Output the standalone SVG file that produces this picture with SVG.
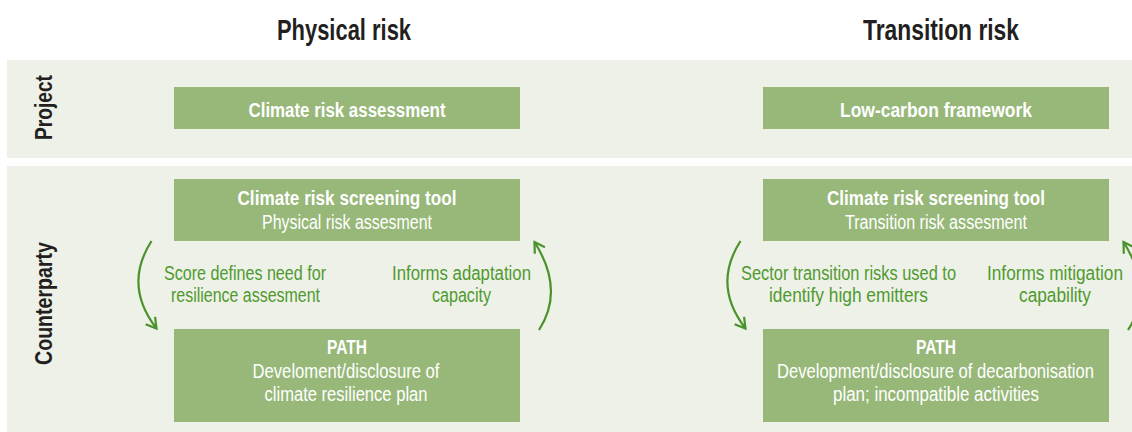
<svg xmlns="http://www.w3.org/2000/svg" width="1132" height="432" viewBox="0 0 1132 432">
  <defs>
    <style>
      .panel { fill: #eef1e7; }
      .box { fill: #97b879; }
      .title { font-family: "Liberation Sans", Arial, sans-serif; font-weight: bold; font-size: 29px; fill: #231f20; text-anchor: middle; }
      .row { font-family: "Liberation Sans", Arial, sans-serif; font-weight: bold; font-size: 24px; fill: #231f20; text-anchor: middle; }
      .bt { font-family: "Liberation Sans", Arial, sans-serif; font-weight: bold; font-size: 20px; fill: #ffffff; text-anchor: middle; }
      .rt { font-family: "Liberation Sans", Arial, sans-serif; font-size: 20px; fill: #ffffff; text-anchor: middle; }
      .lbl { font-family: "Liberation Sans", Arial, sans-serif; font-size: 20px; fill: #4f9a30; text-anchor: middle; }
      .arrow { fill: none; stroke: #4a922c; stroke-width: 2.2; }
    </style>
    <marker id="chev" markerUnits="userSpaceOnUse" viewBox="-13 -8 16 16" refX="0" refY="0" markerWidth="16" markerHeight="16" orient="auto">
      <path d="M-10,-6 L0,0 L-10,6" fill="none" stroke="#4a922c" stroke-width="2.2"/>
    </marker>
  </defs>

  <rect width="1132" height="432" fill="#ffffff"/>

  <!-- column titles -->
  <text class="title" x="344" y="40" textLength="134" lengthAdjust="spacingAndGlyphs">Physical risk</text>
  <text class="title" x="941" y="40" textLength="156" lengthAdjust="spacingAndGlyphs">Transition risk</text>

  <!-- row panels -->
  <rect class="panel" x="7" y="60" width="1125" height="98"/>
  <rect class="panel" x="7" y="166" width="1125" height="266"/>
  <text class="row" transform="translate(51.5,107.5) rotate(-90)" textLength="65" lengthAdjust="spacingAndGlyphs">Project</text>
  <text class="row" transform="translate(51.5,303.5) rotate(-90)" textLength="123" lengthAdjust="spacingAndGlyphs">Counterparty</text>

  <!-- nodes -->
  <g id="climate-risk-assessment">
    <rect class="box" x="174" y="87" width="346" height="42"/>
    <text class="bt" x="347" y="116.5" textLength="197" lengthAdjust="spacingAndGlyphs">Climate risk assessment</text>
  </g>
  <g id="low-carbon-framework">
    <rect class="box" x="763" y="87" width="346" height="42"/>
    <text class="bt" x="936" y="116.5" textLength="192" lengthAdjust="spacingAndGlyphs">Low-carbon framework</text>
  </g>
  <g id="screening-physical">
    <rect class="box" x="174" y="179" width="346" height="62"/>
    <text class="bt" x="347" y="205" textLength="219" lengthAdjust="spacingAndGlyphs">Climate risk screening tool</text>
    <text class="rt" x="347" y="229" textLength="170" lengthAdjust="spacingAndGlyphs">Physical risk assesment</text>
  </g>
  <g id="screening-transition">
    <rect class="box" x="763" y="179" width="346" height="62"/>
    <text class="bt" x="936" y="205" textLength="218" lengthAdjust="spacingAndGlyphs">Climate risk screening tool</text>
    <text class="rt" x="936" y="229" textLength="182" lengthAdjust="spacingAndGlyphs">Transition risk assesment</text>
  </g>
  <g id="path-physical">
    <rect class="box" x="174" y="329" width="346" height="93"/>
    <text class="bt" x="347" y="354" textLength="40" lengthAdjust="spacingAndGlyphs">PATH</text>
    <text class="rt" x="346" y="378" textLength="187" lengthAdjust="spacingAndGlyphs">Develoment/disclosure of</text>
    <text class="rt" x="346" y="401" textLength="163" lengthAdjust="spacingAndGlyphs">climate resilience plan</text>
  </g>
  <g id="path-transition">
    <rect class="box" x="763" y="329" width="346" height="93"/>
    <text class="bt" x="936" y="354" textLength="40" lengthAdjust="spacingAndGlyphs">PATH</text>
    <text class="rt" x="935.5" y="378" textLength="317" lengthAdjust="spacingAndGlyphs">Development/disclosure of decarbonisation</text>
    <text class="rt" x="936" y="401" textLength="206" lengthAdjust="spacingAndGlyphs">plan; incompatible activities</text>
  </g>

  <!-- connectors -->
  <g id="connectors">
    <path class="arrow" d="M151.5,241 Q123,285.5 156.5,328.5" marker-end="url(#chev)"/>
    <path class="arrow" d="M539,330 Q565,290 534.5,242" marker-end="url(#chev)"/>
    <path class="arrow" d="M740.5,241 Q712,285.5 745.5,328.5" marker-end="url(#chev)"/>
    <path class="arrow" d="M1128,330 Q1154,290 1123.5,242" marker-end="url(#chev)"/>
    <text class="lbl" x="245" y="280" textLength="162" lengthAdjust="spacingAndGlyphs">Score defines need for</text>
    <text class="lbl" x="245.5" y="302" textLength="149" lengthAdjust="spacingAndGlyphs">resilience assesment</text>
    <text class="lbl" x="461.5" y="280" textLength="139" lengthAdjust="spacingAndGlyphs">Informs adaptation</text>
    <text class="lbl" x="461.5" y="302" textLength="59" lengthAdjust="spacingAndGlyphs">capacity</text>
    <text class="lbl" x="848.5" y="280" textLength="215" lengthAdjust="spacingAndGlyphs">Sector transition risks used to</text>
    <text class="lbl" x="848.5" y="302" textLength="159" lengthAdjust="spacingAndGlyphs">identify high emitters</text>
    <text class="lbl" x="1055" y="280" textLength="136" lengthAdjust="spacingAndGlyphs">Informs mitigation</text>
    <text class="lbl" x="1055" y="302" textLength="72" lengthAdjust="spacingAndGlyphs">capability</text>
  </g>
</svg>
